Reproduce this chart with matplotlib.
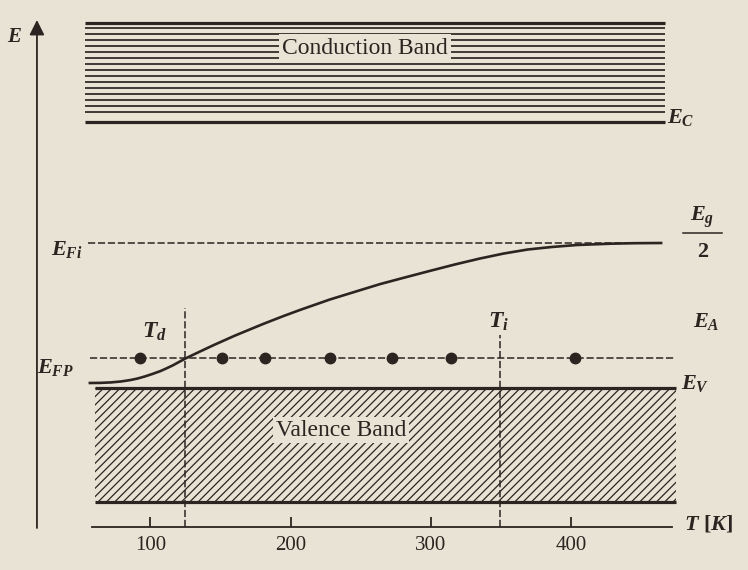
import matplotlib
matplotlib.use("Agg")
import matplotlib.pyplot as plt
import numpy as np

# ---------------- data (T in K, energy in arbitrary units, E_V = 0) ----------------
curve_T = [56, 64, 72, 79, 86, 91, 96, 101, 107, 111, 116, 125, 135, 145, 160, 180, 195, 207,
           228, 250, 264, 280, 299, 317, 335, 352, 369, 386, 404, 428, 445, 465]
curve_E = [0.05, 0.051, 0.056, 0.065, 0.08, 0.095, 0.115, 0.138, 0.168, 0.193, 0.226, 0.295,
           0.362, 0.428, 0.522, 0.638, 0.72, 0.782, 0.885, 0.98, 1.04, 1.10, 1.17, 1.235,
           1.295, 1.345, 1.385, 1.41, 1.43, 1.443, 1.448, 1.45]
dot_T = [93, 151, 182, 228, 272, 314, 403]
tick_T = [100, 200, 300, 400]
tick_labels = ["100", "200", "300", "400"]

T_d = 125
T_i = 349
E_V = 0.0
E_A = 0.30
E_Fi = 1.45
E_C = 2.66
E_cb_top = 3.655
E_vb_bottom = -1.135
E_taxis = -1.385
T_eaxis = 19.2

# ---------------- style ----------------
INK = "#2a2520"
PAPER = "#e8e3d5"
plt.rcParams["font.family"] = ["Liberation Serif", "DejaVu Serif"]
plt.rcParams["mathtext.fontset"] = "custom"
plt.rcParams["mathtext.it"] = "Liberation Serif:italic:bold"
plt.rcParams["mathtext.rm"] = "Liberation Serif:bold"
plt.rcParams["mathtext.bf"] = "Liberation Serif:bold:italic"
plt.rcParams["hatch.linewidth"] = 0.9

fig = plt.figure(figsize=(7.48, 5.70), dpi=100, facecolor=PAPER)
ax = fig.add_axes([0, 0, 1, 1], facecolor=PAPER)
ax.set_xlim(-7.13, 526.0)
ax.set_ylim(-1.82, 3.88)

dash = (0, (4.7, 1.8))

# conduction band lines
cb_levels = np.concatenate(([E_C], np.linspace(E_C + 0.10, E_cb_top, 16)))
for i, lv in enumerate(cb_levels):
    lw = 2.3 if (i == 0 or i == len(cb_levels) - 1) else 1.25
    ax.hlines(lv, 53.5, 467, color=INK, lw=lw)
ax.text(253, 3.40, "Conduction Band", fontsize=17, ha="center", va="center", color=INK,
        bbox=dict(boxstyle="square,pad=0.15", fc=PAPER, ec="none"), zorder=5)

# valence band
ax.fill_between([60.6, 474.7], E_vb_bottom, E_V, facecolor="none", edgecolor=INK,
                hatch="////", linewidth=0)
ax.hlines([E_V, E_vb_bottom], 60.6, 474.7, color=INK, lw=2.3)
ax.text(236, -0.42, "Valence Band", fontsize=17, ha="center", va="center", color=INK,
        bbox=dict(boxstyle="square,pad=0.12", fc=PAPER, ec="none"), zorder=5)

# intrinsic level and acceptor level
ax.hlines(E_Fi, 55.6, 465, color=INK, lw=1.1, linestyles=[dash])
ax.hlines(E_A, 57, 473, color=INK, lw=1.1, linestyles=[dash])
ax.plot(dot_T, [E_A] * len(dot_T), "o", color=INK, ms=7.5, zorder=4)

# T_d and T_i markers
ax.vlines(T_d, E_taxis, 0.80, color=INK, lw=1.1, linestyles=[dash])
ax.vlines(T_i, E_taxis, 0.53, color=INK, lw=1.1, linestyles=[dash])

# Fermi level curve
ax.plot(curve_T, curve_E, color=INK, lw=1.9, solid_capstyle="butt",
        solid_joinstyle="round", zorder=3)

# E axis (arrow)
ax.annotate("", xy=(T_eaxis, 3.68), xytext=(T_eaxis, -1.40),
            arrowprops=dict(arrowstyle="-|>,head_length=0.5,head_width=0.25", lw=1.3,
                            color=INK, mutation_scale=18, shrinkA=0, shrinkB=0))

# T axis via real ticks
for s in ["left", "right", "top"]:
    ax.spines[s].set_visible(False)
ax.spines["bottom"].set_position(("data", E_taxis))
ax.spines["bottom"].set_bounds(58.4, 472)
ax.spines["bottom"].set_linewidth(1.3)
ax.spines["bottom"].set_color(INK)
ax.set_yticks([])
ax.set_xticks(tick_T, tick_labels)
ax.tick_params(axis="x", direction="in", length=7.2, width=1.3, color=INK,
               labelsize=15, labelcolor=INK, pad=7)

# labels
lab = dict(color=INK, va="center")
ax.text(3.6, 3.51, r"$E$", fontsize=15, ha="center", **lab)
ax.text(468, 2.70, r"$E_C$", fontsize=16, ha="left", **lab)
ax.text(29.0, 1.38, r"$E_{Fi}$", fontsize=16, ha="left", **lab)
ax.text(19, 0.20, r"$E_{FP}$", fontsize=16, ha="left", **lab)
ax.text(487, 0.66, r"$E_A$", fontsize=16, ha="left", **lab)
ax.text(478.5, 0.05, r"$E_V$", fontsize=16, ha="left", **lab)
ax.text(103.3, 0.56, r"$T_d$", fontsize=17, ha="center", **lab)
ax.text(347.8, 0.66, r"$T_i$", fontsize=17, ha="center", **lab)
ax.text(480.5, -1.36, r"$T\ [K]$", fontsize=16, ha="left", **lab)
ax.text(493.5, 1.71, r"$E_g$", fontsize=16, ha="center", **lab)
ax.plot([479.7, 507.5], [1.55, 1.55], color=INK, lw=1.1)
ax.text(493.5, 1.36, "2", fontsize=16, ha="center", color=INK, va="center", fontweight="bold")

fig.savefig("out.png", dpi=100, facecolor=PAPER)
